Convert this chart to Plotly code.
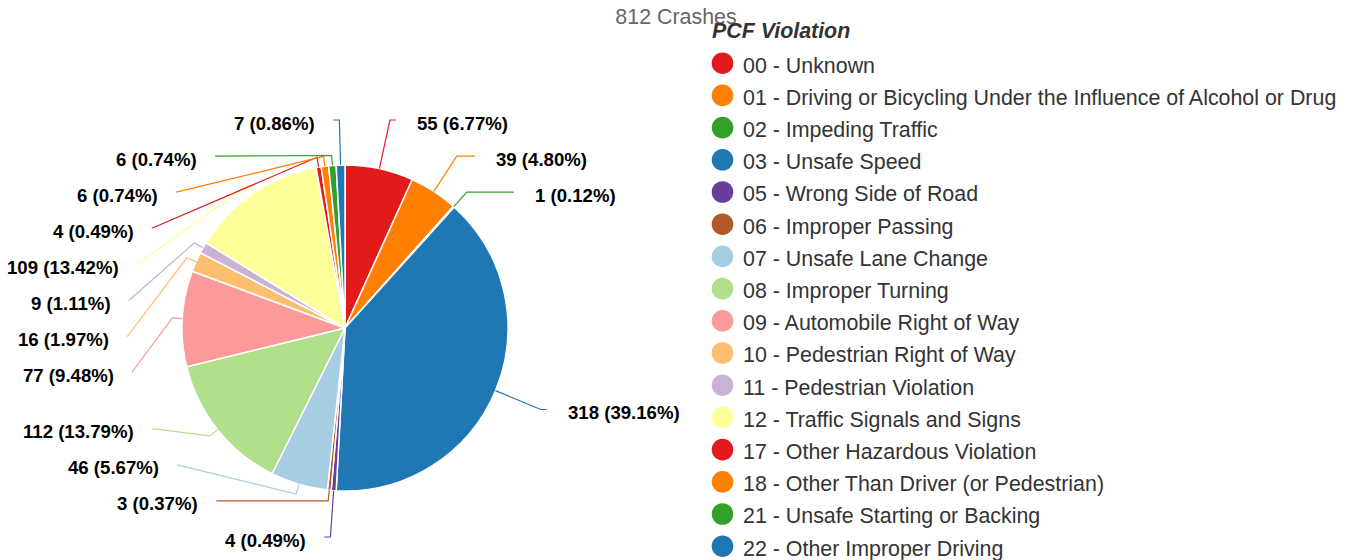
import math
import plotly.graph_objects as go

# ---------------- data ----------------
categories = [
    "00 - Unknown",
    "01 - Driving or Bicycling Under the Influence of Alcohol or Drug",
    "02 - Impeding Traffic",
    "03 - Unsafe Speed",
    "05 - Wrong Side of Road",
    "06 - Improper Passing",
    "07 - Unsafe Lane Change",
    "08 - Improper Turning",
    "09 - Automobile Right of Way",
    "10 - Pedestrian Right of Way",
    "11 - Pedestrian Violation",
    "12 - Traffic Signals and Signs",
    "17 - Other Hazardous Violation",
    "18 - Other Than Driver (or Pedestrian)",
    "21 - Unsafe Starting or Backing",
    "22 - Other Improper Driving",
]
values = [55, 39, 1, 318, 4, 3, 46, 112, 77, 16, 9, 109, 4, 6, 6, 7]
colors = [
    "#e31a1c", "#ff7f00", "#33a02c", "#1f78b4", "#6a3d9a", "#b15928",
    "#a6cee3", "#b2df8a", "#fb9a99", "#fdbf6f", "#cab2d6", "#ffff99",
    "#e31a1c", "#ff7f00", "#33a02c", "#1f78b4",
]
chart_title = "812 Crashes"
legend_title = "PCF Violation"

# ---------------- layout constants (pixels) ----------------
W, H = 1345, 560
CX, CY, RP = 345, 328, 163          # pie centre and radius
LR = 212                            # label circle radius
LBL_H = 36.1                        # label slot height
FONT = "Liberation Sans, Arial, sans-serif"


def px(x):
    return x / W


def py(y):
    return 1 - y / H


total = sum(values)

fig = go.Figure()
fig.add_trace(go.Pie(
    labels=categories,
    values=values,
    marker=dict(colors=colors, line=dict(color="white", width=1.5)),
    sort=False,
    direction="clockwise",
    rotation=0,
    textinfo="none",
    hoverinfo="label+value+percent",
    showlegend=False,
    domain=dict(x=[px(CX - RP), px(CX + RP)], y=[py(CY + RP), py(CY - RP)]),
))

# ---------------- data labels with connectors ----------------
items = []
cum = 0
for i, v in enumerate(values):
    mid = (cum + v / 2) / total * 2 * math.pi
    cum += v
    sx, sy = math.sin(mid), -math.cos(mid)
    side = -1 if math.degrees(mid) > 180 else 1
    items.append(dict(i=i, mid=mid, sx=sx, sy=sy, side=side,
                      target=CY + sy * LR))

lo, hi = CY - LR + 4, CY + LR - 3


def distribute(its):
    its = sorted(its, key=lambda d: d["target"])
    boxes = [dict(items=[it], targets=[it["target"]]) for it in its]
    while True:
        for b in boxes:
            size = len(b["items"]) * LBL_H
            t = (min(b["targets"]) + max(b["targets"])) / 2
            start = t - size / 2
            start = max(lo - LBL_H / 2, min(start, hi + LBL_H / 2 - size))
            b["start"], b["size"] = start, size
        merged = False
        k = len(boxes) - 1
        while k > 0:
            a, b = boxes[k - 1], boxes[k]
            if a["start"] + a["size"] > b["start"] + 1e-9:
                a["items"] += b["items"]
                a["targets"] += b["targets"]
                a["size"] += b["size"]
                boxes.pop(k)
                merged = True
            k -= 1
        if not merged:
            break
    for b in boxes:
        for k, it in enumerate(b["items"]):
            it["y"] = b["start"] + LBL_H / 2 + k * LBL_H


distribute([d for d in items if d["side"] == 1])
distribute([d for d in items if d["side"] == -1])

shapes = []
annotations = []
for d in items:
    y = d["y"]
    clamped = y <= lo + 0.5 or y >= hi - 0.5
    yy = d["target"] if clamped else y
    dy = yy - CY
    xl = CX + d["side"] * (math.sqrt(max(LR ** 2 - dy ** 2, 0)) + 6)
    tx, ty = CX + d["sx"] * RP, CY + d["sy"] * RP
    crook = None
    if abs(d["sy"]) > 1e-6:
        t = (y - CY) / d["sy"]
        if t >= RP + 10:
            crook = (CX + d["sx"] * t, y)
    if crook is None:
        crook = (CX + d["sx"] * (RP + 10), CY + d["sy"] * (RP + 10))
    path = "M{},{} L{},{} L{},{}".format(px(xl), py(y), px(crook[0]), py(crook[1]),
                                         px(tx), py(ty))
    shapes.append(dict(type="path", path=path, xref="paper", yref="paper",
                       line=dict(color=colors[d["i"]], width=1.2), layer="above"))
    v = values[d["i"]]
    text = "<b>{} ({:.2f}%)</b>".format(v, v / total * 100)
    if d["side"] == 1:
        ax, anchor = xl + 19, "left"
    else:
        ax, anchor = xl - 16, "right"
    annotations.append(dict(x=px(ax), y=py(y + 3), xref="paper", yref="paper",
                            text=text, showarrow=False, xanchor=anchor,
                            yanchor="middle",
                            font=dict(family=FONT, size=18.6, color="#000000")))

# ---------------- legend (drawn) ----------------
LEG_X, LEG_Y0, LEG_DY, LEG_R = 722.5, 63.2, 32.2, 10.8
annotations.append(dict(x=px(710), y=py(30.5), xref="paper", yref="paper",
                        text="<b><i>{}</i></b>".format(legend_title),
                        showarrow=False, xanchor="left", yanchor="middle",
                        font=dict(family=FONT, size=21.4, color="#333333")))
for i, name in enumerate(categories):
    cy = LEG_Y0 + i * LEG_DY
    shapes.append(dict(type="circle", xref="paper", yref="paper",
                       x0=px(LEG_X - LEG_R), x1=px(LEG_X + LEG_R),
                       y0=py(cy + LEG_R), y1=py(cy - LEG_R),
                       fillcolor=colors[i], line=dict(width=0)))
    annotations.append(dict(x=px(741), y=py(cy + 2.3), xref="paper", yref="paper",
                            text=name, showarrow=False, xanchor="left",
                            yanchor="middle",
                            font=dict(family=FONT, size=21.4, color="#333333")))

fig.update_layout(
    width=W, height=H,
    margin=dict(l=0, r=0, t=0, b=0),
    paper_bgcolor="white",
    plot_bgcolor="white",
    title=dict(text=chart_title, x=px(676), y=py(17), xanchor="center",
               yanchor="middle", font=dict(family=FONT, size=21.4, color="#666666")),
    shapes=shapes,
    annotations=annotations,
    showlegend=False,
)

fig.write_html("out.html", config={"displayModeBar": False},
               post_script="document.body.style.margin='0';")
